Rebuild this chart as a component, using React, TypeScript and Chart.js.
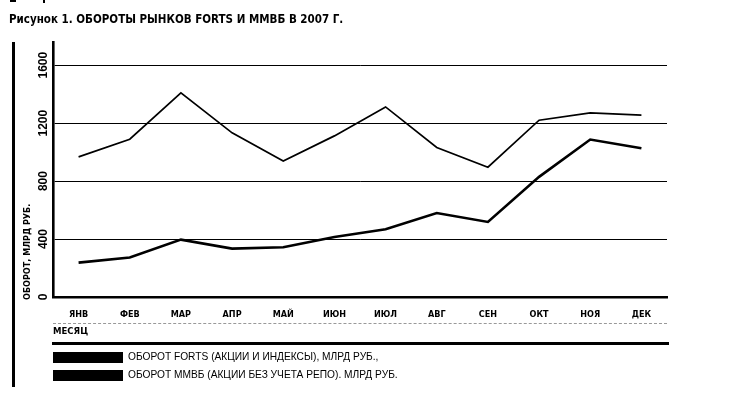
import React, { useEffect, useRef } from "react";
import { Chart, registerables } from "chart.js";

Chart.register(...registerables);

const months = ["ЯНВ", "ФЕВ", "МАР", "АПР", "МАЙ", "ИЮН", "ИЮЛ", "АВГ", "СЕН", "ОКТ", "НОЯ", "ДЕК"];
const fortsTurnover = [967, 1089, 1409, 1133, 939, 1112, 1312, 1032, 896, 1220, 1271, 1255];
const micexTurnover = [237, 272, 396, 334, 343, 414, 467, 580, 518, 829, 1087, 1027];
const yTickValues = [0, 400, 800, 1200, 1600];

const titleBold = "Рисунок 1.";
const titleRest = " ОБОРОТЫ РЫНКОВ FORTS И ММВБ В 2007 Г.";
const yAxisTitle = "ОБОРОТ, МЛРД РУБ.";
const xAxisTitle = "МЕСЯЦ";
const legendForts = "ОБОРОТ FORTS (АКЦИИ И ИНДЕКСЫ), МЛРД РУБ.,";
const legendMicex = "ОБОРОТ ММВБ (АКЦИИ БЕЗ УЧЕТА РЕПО). МЛРД РУБ.";

const NARROW = "'Liberation Sans Narrow', 'DejaVu Sans Condensed', 'Arial Narrow', 'Liberation Sans', Arial, sans-serif";
const SANS = "'Liberation Sans', Arial, sans-serif";

export default function App() {
  const ref = useRef<HTMLCanvasElement | null>(null);

  useEffect(() => {
    if (!ref.current) return;
    const yTickPlugin = {
      id: "yTickLabels",
      afterDraw(chart: any) {
        const ctx = chart.ctx;
        const y = chart.scales.y;
        const x0 = chart.chartArea.left - 9;
        ctx.save();
        ctx.fillStyle = "#000";
        ctx.font = `bold 12px ${SANS}`;
        ctx.textAlign = "center";
        ctx.textBaseline = "middle";
        for (const v of yTickValues) {
          ctx.save();
          ctx.translate(x0, y.getPixelForValue(v));
          ctx.rotate(-Math.PI / 2);
          ctx.fillText(String(v), 0, 0);
          ctx.restore();
        }
        ctx.restore();
      },
    };

    const chart = new Chart(ref.current, {
      type: "line",
      data: {
        labels: months,
        datasets: [
          {
            label: legendForts,
            data: fortsTurnover,
            borderColor: "#000",
            borderWidth: 1.7,
            pointRadius: 0,
            tension: 0,
            fill: false,
          },
          {
            label: legendMicex,
            data: micexTurnover,
            borderColor: "#000",
            borderWidth: 2.6,
            pointRadius: 0,
            tension: 0,
            fill: false,
          },
        ],
      },
      options: {
        responsive: false,
        animation: false,
        devicePixelRatio: 1,
        layout: { padding: { left: 53, right: 67, top: 42, bottom: 72 } },
        plugins: { legend: { display: false }, tooltip: { enabled: false }, title: { display: false } },
        scales: {
          x: {
            offset: true,
            grid: { display: false, drawTicks: false },
            border: { display: true, color: "#000", width: 2.6 },
            ticks: {
              color: "#000",
              font: { family: NARROW, size: 9, weight: "bold" },
              padding: 12,
              maxRotation: 0,
              minRotation: 0,
              autoSkip: false,
            },
            afterFit: (s: any) => {
              s.height = 30;
            },
          },
          y: {
            min: 0,
            max: 1760,
            grid: { color: "#000", lineWidth: 1, drawTicks: false },
            border: { display: true, color: "#000", width: 2.6 },
            ticks: { display: false, includeBounds: false },
            afterBuildTicks: (s: any) => {
              s.ticks = yTickValues.map((v) => ({ value: v }));
            },
            afterFit: (s: any) => {
              s.width = 0;
            },
          },
        },
      },
      plugins: [yTickPlugin],
    });
    return () => chart.destroy();
  }, []);

  const abs = (o: React.CSSProperties): React.CSSProperties => ({ position: "absolute", ...o });

  return (
    <div style={{ position: "absolute", left: 0, top: 0, width: 734, height: 399, background: "#fff", overflow: "hidden" }}>
      <canvas ref={ref} width={734} height={399} style={{ position: "absolute", left: 0, top: 0, width: 734, height: 399 }} />
      <div style={abs({ left: 10, top: 0, width: 6, height: 2, background: "#000" })} />
      <div style={abs({ left: 43, top: 0, width: 2, height: 3, background: "#000" })} />
      <div style={abs({ left: 9, top: 11, fontFamily: NARROW, fontSize: 11.5, color: "#000", whiteSpace: "nowrap", lineHeight: "16px" })}>
        <span style={{ fontWeight: 900 }}>{titleBold}</span>
        <span style={{ fontWeight: 700 }}>{titleRest}</span>
      </div>
      <div style={abs({ left: 12, top: 42, width: 2.5, height: 345, background: "#000" })} />
      <div
        style={abs({
          left: 27,
          top: 300,
          transform: "rotate(-90deg)",
          transformOrigin: "0 0",
          fontFamily: NARROW,
          fontWeight: 700,
          fontSize: 9,
          lineHeight: "10px",
          whiteSpace: "nowrap",
          marginLeft: -5,
        })}
      >
        {yAxisTitle}
      </div>
      <div style={abs({ left: 53, top: 323, width: 614, height: 0, borderTop: "1px dashed #999" })} />
      <div style={abs({ left: 53, top: 325, fontFamily: NARROW, fontWeight: 700, fontSize: 9.5, lineHeight: "11px", whiteSpace: "nowrap" })}>
        {xAxisTitle}
      </div>
      <div style={abs({ left: 52, top: 342, width: 617, height: 2.5, background: "#000" })} />
      <div style={abs({ left: 53, top: 352, width: 70, height: 11, background: "#000" })} />
      <div style={abs({ left: 53, top: 370, width: 70, height: 11, background: "#000" })} />
      <div style={abs({ left: 128, top: 351, fontFamily: SANS, fontSize: 10.2, lineHeight: "12px", whiteSpace: "nowrap" })}>{legendForts}</div>
      <div style={abs({ left: 128, top: 369, fontFamily: SANS, fontSize: 10.2, lineHeight: "12px", whiteSpace: "nowrap" })}>{legendMicex}</div>
    </div>
  );
}
